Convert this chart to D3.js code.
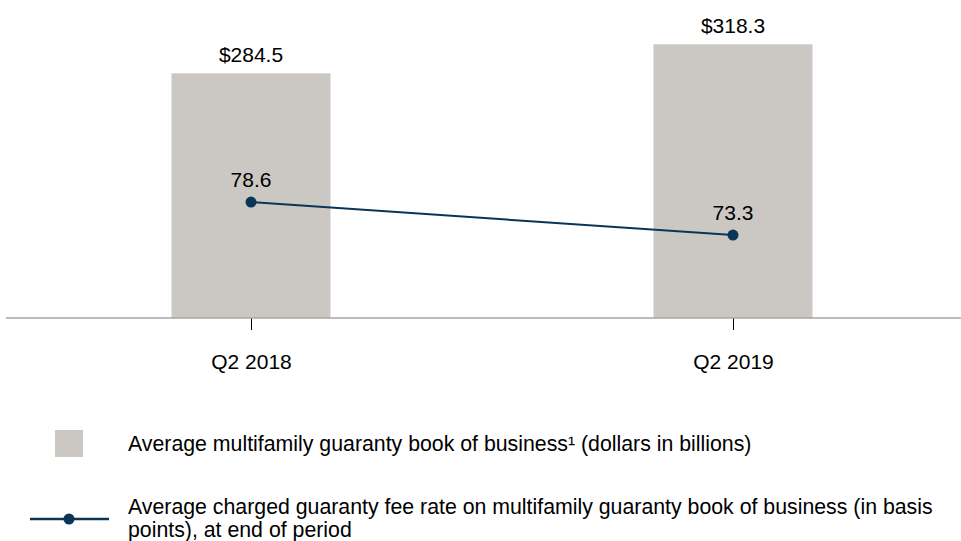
<!DOCTYPE html>
<html>
<head>
<meta charset="utf-8">
<script src="https://cdn.jsdelivr.net/npm/d3@7"></script>
<style>
  body { margin: 0; background: #fff; }
  text { font-family: "Liberation Sans", Arial, sans-serif; fill: #000; }
</style>
</head>
<body>
<div class="svg-container"></div>
<script>
// Data
var quarters = ["Q2 2018", "Q2 2019"];
var bookValues = [284.5, 318.3];
var feeRates = [78.6, 73.3];
var barLabels = ["$284.5", "$318.3"];
var legendLabels = [
  "Average multifamily guaranty book of business\u00b9 (dollars in billions)",
  "Average charged guaranty fee rate on multifamily guaranty book of business (in basis",
  "points), at end of period"
];

var width = 961, height = 541;
var axisY = 318;
var fs = "21px";
var legendFs = "21.3px";

var svg = d3.select(".svg-container").append("svg")
  .attr("width", width)
  .attr("height", height);

// Scales
var xScale = d3.scalePoint().domain(quarters).range([251, 733]);
var yBar = d3.scaleLinear().domain([0, 369.8]).range([axisY, 0]);
var yLine = d3.scaleLinear().domain([60, 111]).range([axisY, 0]);
var barW = 159;

var data = quarters.map(function(q, i) {
  return {q: q, book: bookValues[i], rate: feeRates[i], label: barLabels[i]};
});

// Bars
svg.append("g").selectAll("rect")
  .data(data).enter().append("rect")
    .attr("x", function(d) { return xScale(d.q) - barW / 2; })
    .attr("y", function(d) { return yBar(d.book); })
    .attr("width", barW)
    .attr("height", function(d) { return axisY - yBar(d.book); })
    .attr("fill", "#cbc8c4");

// Bar labels
svg.append("g").selectAll("text")
  .data(data).enter().append("text")
    .attr("x", function(d) { return xScale(d.q); })
    .attr("y", function(d) { return yBar(d.book) - 11; })
    .attr("text-anchor", "middle")
    .style("font-size", fs)
    .text(function(d) { return d.label; });

// X axis
var xaxis = d3.axisBottom(xScale).tickSize(12).tickPadding(24);
var ax = svg.append("g")
  .attr("transform", "translate(0," + axisY + ")")
  .call(xaxis);
ax.select(".domain").remove();
ax.selectAll(".tick line").attr("stroke", "#000").attr("stroke-width", 1);
ax.selectAll(".tick text")
  .style("font-size", fs)
  .style("font-family", "'Liberation Sans', Arial, sans-serif")
  .attr("fill", "#000");
svg.append("line")
  .attr("x1", 6).attr("x2", width)
  .attr("y1", axisY).attr("y2", axisY)
  .attr("stroke", "#a6a6a6")
  .attr("stroke-width", 1.5);

// Line
var line = d3.line()
  .x(function(d) { return xScale(d.q); })
  .y(function(d) { return yLine(d.rate); });

svg.append("path")
  .datum(data)
  .attr("fill", "none")
  .attr("stroke", "#0b3556")
  .attr("stroke-width", 2)
  .attr("d", line);

svg.append("g").selectAll("circle")
  .data(data).enter().append("circle")
    .attr("cx", function(d) { return xScale(d.q); })
    .attr("cy", function(d) { return yLine(d.rate); })
    .attr("r", 5.5)
    .attr("fill", "#0b3556");

svg.append("g").selectAll("text")
  .data(data).enter().append("text")
    .attr("x", function(d) { return xScale(d.q); })
    .attr("y", function(d) { return yLine(d.rate) - 15; })
    .attr("text-anchor", "middle")
    .style("font-size", fs)
    .text(function(d) { return d.rate.toFixed(1); });

// Legend
var legend = svg.append("g");
legend.append("rect")
  .attr("x", 55).attr("y", 430)
  .attr("width", 28).attr("height", 27)
  .attr("fill", "#cbc8c4");
legend.append("text")
  .attr("x", 128).attr("y", 451)
  .style("font-size", legendFs)
  .text(legendLabels[0]);

legend.append("line")
  .attr("x1", 30).attr("x2", 109)
  .attr("y1", 519).attr("y2", 519)
  .attr("stroke", "#0b3556")
  .attr("stroke-width", 2.5);
legend.append("circle")
  .attr("cx", 69).attr("cy", 519).attr("r", 5.5)
  .attr("fill", "#0b3556");
legend.append("text")
  .attr("x", 128).attr("y", 514)
  .style("font-size", legendFs)
  .text(legendLabels[1]);
legend.append("text")
  .attr("x", 128).attr("y", 537)
  .style("font-size", legendFs)
  .text(legendLabels[2]);
</script>
</body>
</html>
